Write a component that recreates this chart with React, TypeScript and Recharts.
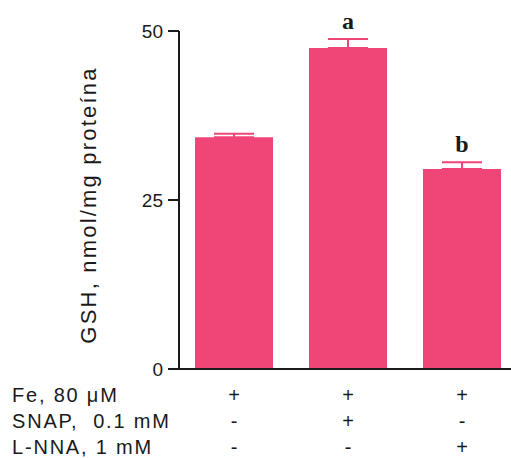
import { BarChart, Bar, XAxis, YAxis, ErrorBar, LabelList } from "recharts";

const groups = ["Fe", "Fe + SNAP", "Fe + L-NNA"];
const gshMean = [34.3, 47.5, 29.6];
const gshSem = [0.5, 1.3, 1.0];
const sigLetters = ["", "a", "b"];
const feRow = ["+", "+", "+"];
const snapRow = ["-", "+", "-"];
const lnnaRow = ["-", "-", "+"];
const rowLabels = ["Fe, 80 μM", "SNAP,  0.1 mM", "L-NNA, 1 mM"];
const yTicks = [0, 25, 50];
const yLabel = "GSH, nmol/mg proteína";

const treatmentRows = [feRow, snapRow, lnnaRow];
const rowOffsets = [33, 59, 85];

const chartData = groups.map((g, i) => ({
  group: g,
  gsh: gshMean[i],
  err: [0, gshSem[i]],
  letter: sigLetters[i],
}));

const sans = "'Liberation Sans', Arial, sans-serif";
const ink = "#1a1a1a";
const pink = "#f04577";

// +/- signs under each bar
function TreatmentTick(props: any) {
  const { x, y, payload } = props;
  const i = payload.index;
  return (
    <g>
      {treatmentRows.map((row, r) => (
        <text
          key={r}
          x={x}
          y={y + rowOffsets[r]}
          textAnchor="middle"
          fontFamily={sans}
          fontSize={20}
          fill={ink}
        >
          {row[i]}
        </text>
      ))}
    </g>
  );
}

function RowLabels(props: any) {
  const { viewBox } = props;
  return (
    <g>
      {rowLabels.map((t, r) => (
        <text
          key={r}
          x={12}
          y={viewBox.y + rowOffsets[r]}
          fontFamily={sans}
          fontSize={20}
          letterSpacing={1.8}
          fill={ink}
          style={{ whiteSpace: "pre" }}
        >
          {t}
        </text>
      ))}
    </g>
  );
}

function YTitle(props: any) {
  const { viewBox } = props;
  const cy = viewBox.y + viewBox.height / 2 + 5;
  return (
    <text
      x={96}
      y={cy}
      transform={`rotate(-90, 96, ${cy})`}
      textAnchor="middle"
      fontFamily={sans}
      fontSize={22}
      letterSpacing={2.2}
      fill={ink}
    >
      {yLabel}
    </text>
  );
}

// significance letter sits just above the error cap
function LetterLabel(props: any) {
  const { x, y, width, height, value, index } = props;
  if (!value) return null;
  const pxPerUnit = height / gshMean[index];
  const capY = y - gshSem[index] * pxPerUnit;
  return (
    <text
      x={x + width / 2}
      y={capY - 10}
      textAnchor="middle"
      fontFamily="'Liberation Serif', 'Times New Roman', serif"
      fontWeight="bold"
      fontSize={24}
      fill={ink}
    >
      {value}
    </text>
  );
}

export default function App() {
  return (
    <div
      style={{
        position: "absolute",
        left: 0,
        top: 0,
        width: 511,
        height: 458,
        overflow: "hidden",
        background: "#fff",
      }}
    >
      <BarChart
        width={530}
        height={458}
        data={chartData}
        margin={{ top: 31, right: 11, left: 0, bottom: 0 }}
      >
        <XAxis
          dataKey="group"
          height={89}
          axisLine={{ stroke: ink, strokeWidth: 2 }}
          tickLine={false}
          tickSize={0}
          tickMargin={0}
          padding={{ left: -2, right: 0 }}
          tick={<TreatmentTick />}
          interval={0}
          label={<RowLabels />}
        />
        <YAxis
          width={179}
          domain={[0, 50]}
          ticks={yTicks}
          axisLine={{ stroke: ink, strokeWidth: 2 }}
          tickLine={{ stroke: ink, strokeWidth: 2 }}
          tickSize={11}
          tickMargin={5}
          tick={{ fontSize: 19, fill: ink, fontFamily: sans }}
          label={<YTitle />}
        />
        <Bar dataKey="gsh" fill={pink} barSize={78} isAnimationActive={false}>
          <ErrorBar
            dataKey="err"
            direction="y"
            width={20}
            stroke={pink}
            strokeWidth={2}
            isAnimationActive={false}
          />
          <LabelList dataKey="letter" content={<LetterLabel />} />
        </Bar>
      </BarChart>
    </div>
  );
}
